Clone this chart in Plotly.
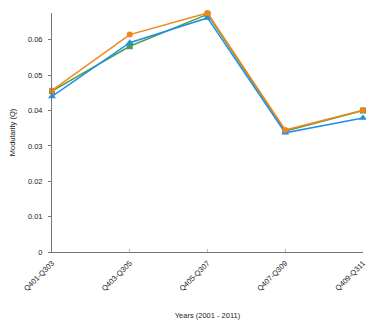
import plotly.graph_objects as go

categories = ["Q401-Q303", "Q403-Q305", "Q405-Q307", "Q407-Q309", "Q409-Q311"]
series_green = [0.0455, 0.0582, 0.0672, 0.0342, 0.0400]
series_blue = [0.0440, 0.0592, 0.0662, 0.0337, 0.0379]
series_orange = [0.0457, 0.0615, 0.0676, 0.0345, 0.0401]
y_ticks = [0, 0.01, 0.02, 0.03, 0.04, 0.05, 0.06]
y_tick_labels = ["0", "0.01", "0.02", "0.03", "0.04", "0.05", "0.06"]

fig = go.Figure()
fig.add_trace(go.Scatter(x=categories, y=series_green, mode="lines+markers",
                         line=dict(color="#4a9e4a", width=1.5),
                         marker=dict(symbol="square", size=6, color="#4a9e4a"),
                         cliponaxis=False, showlegend=False))
fig.add_trace(go.Scatter(x=categories, y=series_blue, mode="lines+markers",
                         line=dict(color="#1f8fe8", width=1.5),
                         marker=dict(symbol="triangle-up", size=7, color="#1f8fe8"),
                         cliponaxis=False, showlegend=False))
fig.add_trace(go.Scatter(x=categories, y=series_orange, mode="lines+markers",
                         line=dict(color="#f0851c", width=1.5),
                         marker=dict(symbol="circle", size=6, color="#f0851c"),
                         cliponaxis=False, showlegend=False))

font = dict(family="Liberation Sans, Arial, sans-serif", size=7.5, color="#222")
tfont = dict(family="Liberation Sans, Arial, sans-serif", size=7.5, color="#222")
# page body has an 8px margin; figure is sized to fit inside the 374x328 window
fig.update_layout(
    width=358, height=312,
    margin=dict(l=44, r=3, t=5, b=68),
    paper_bgcolor="white", plot_bgcolor="white",
    font=font,
    xaxis=dict(
        type="category", range=[0, 4], automargin=False,
        showline=True, linecolor="#777", linewidth=1,
        ticks="inside", ticklen=3, tickcolor="#bbb",
        tickangle=-45, showgrid=False, zeroline=False,
        tickfont=tfont, ticklabelstandoff=3,
        title=dict(text="Years (2001 - 2011)", font=font, standoff=34),
    ),
    yaxis=dict(
        range=[0, 0.0676], automargin=False,
        tickvals=y_ticks, ticktext=y_tick_labels,
        showline=True, linecolor="#777", linewidth=1,
        ticks="outside", ticklen=3, tickcolor="#777",
        showgrid=False, zeroline=False,
        tickfont=tfont, ticklabelstandoff=4,
        title=dict(text="Modularity (Q)", font=font, standoff=13),
    ),
)

fig.write_html("out.html")
